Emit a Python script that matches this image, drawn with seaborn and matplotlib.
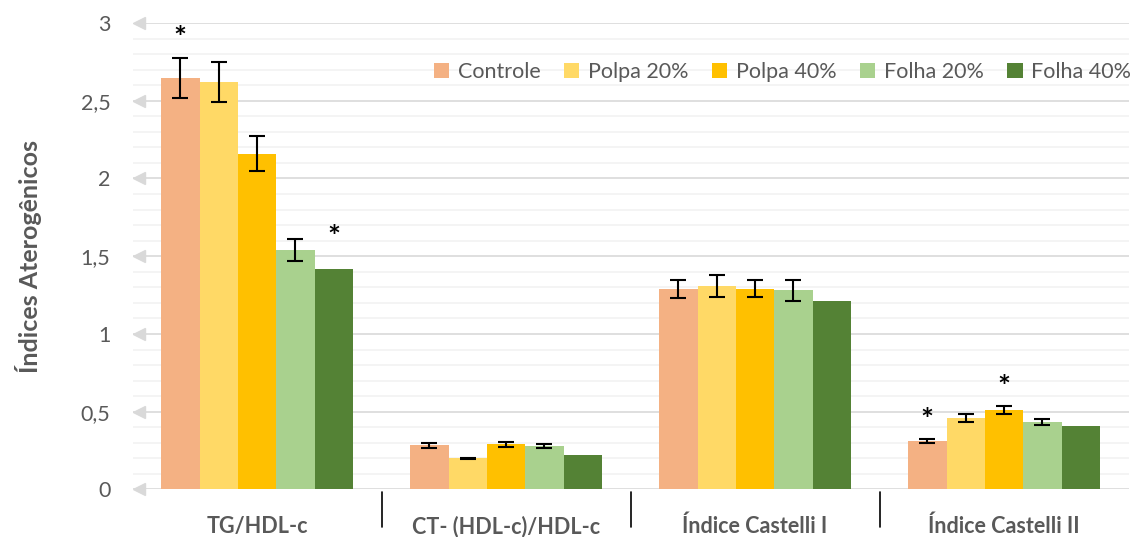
import numpy as np
import pandas as pd
import matplotlib
matplotlib.use("Agg")
import matplotlib.pyplot as plt
import seaborn as sns

# chart data
categories = ["TG/HDL-c", "CT- (HDL-c)/HDL-c", "Índice Castelli I", "Índice Castelli II"]
groups = ["Controle", "Polpa 20%", "Polpa 40%", "Folha 20%", "Folha 40%"]
colors = ["#F4B183", "#FFD966", "#FFC000", "#A9D18E", "#548235"]

controle = [2.645, 0.285, 1.29, 0.31]
polpa20 = [2.62, 0.20, 1.31, 0.46]
polpa40 = [2.16, 0.29, 1.29, 0.51]
folha20 = [1.54, 0.28, 1.28, 0.435]
folha40 = [1.415, 0.22, 1.21, 0.41]

controle_err = [0.13, 0.017, 0.06, 0.012]
polpa20_err = [0.13, 0.005, 0.07, 0.025]
polpa40_err = [0.11, 0.017, 0.055, 0.025]
folha20_err = [0.07, 0.012, 0.065, 0.02]
folha40_err = [0, 0, 0, 0]

# (group, category) pairs marked with an asterisk
stars = [("Controle", "TG/HDL-c"), ("Folha 40%", "TG/HDL-c"),
         ("Controle", "Índice Castelli II"), ("Polpa 40%", "Índice Castelli II")]

y_ticks = [0, 0.5, 1, 1.5, 2, 2.5, 3]

values = [controle, polpa20, polpa40, folha20, folha40]
errors = [controle_err, polpa20_err, polpa40_err, folha20_err, folha40_err]

rows = []
for g, vals, errs in zip(groups, values, errors):
    for c, v, e in zip(categories, vals, errs):
        rows.append({"categoria": c, "grupo": g, "valor": v, "erro": e})
df = pd.DataFrame(rows)

sns.set_style("white")
plt.rcParams["font.family"] = ["Lato", "DejaVu Sans"]

fig = plt.figure(figsize=(11.43, 5.37), dpi=100)
ax = fig.add_axes([0.116, 0.0885, 0.8714, 0.8687])

sns.barplot(data=df, x="categoria", y="valor", hue="grupo", order=categories,
            hue_order=groups, palette=colors, errorbar=None, width=0.77,
            saturation=1, linewidth=0, ax=ax, zorder=3)

# error bars and asterisks placed on the seaborn bars
text_gray = "#595959"
for i, g in enumerate(groups):
    for j, c in enumerate(categories):
        bar = ax.patches[i * len(categories) + j]
        xc = bar.get_x() + bar.get_width() / 2
        v = values[i][j]
        e = errors[i][j]
        if e > 0:
            ax.errorbar(xc, v, yerr=e, color="black", lw=1.5, capsize=6,
                        capthick=1.5, zorder=4)
        if (g, c) in stars:
            top = v + e + (0.12 if e > 0 else 0.2)
            ax.text(xc, top, "*", ha="center", va="center", fontsize=22,
                    fontweight="bold", color="black", zorder=5)

ax.set_xlim(-0.5, len(categories) - 0.5)
ax.set_ylim(0, 3)

# grid: major every 0.5, minor every 0.1
ax.set_yticks(y_ticks)
ax.set_yticks(np.arange(0, 3.01, 0.1), minor=True)
ax.grid(axis="y", which="minor", color="#F2F2F2", lw=1.2, zorder=0)
ax.grid(axis="y", which="major", color="#D9D9D9", lw=1.2, zorder=1)
ax.set_axisbelow(True)
ax.set_yticklabels([f"{t:g}".replace(".", ",") for t in y_ticks],
                   color=text_gray, fontsize=15.5)
ax.tick_params(axis="y", which="both", length=0, pad=16)
ax.tick_params(axis="x", length=0, pad=19)
ax.set_xticks(range(len(categories)))
ax.set_xticklabels(categories, fontsize=15.5, fontweight="bold", color=text_gray)

# little arrow heads at the left end of the major grid lines
ax.plot([-0.476] * len(y_ticks), y_ticks, lw=0, marker="<", ms=9,
        color="#D9D9D9", clip_on=False, zorder=2)

# category separators below the axis
for b in np.arange(0.5, len(categories) - 0.5, 1):
    ax.plot([b, b], [-0.005, -0.08], color="black", lw=1.2,
            transform=ax.get_xaxis_transform(), clip_on=False)

for s in ax.spines.values():
    s.set_visible(False)

ax.set_xlabel("")
ax.set_ylabel("Índices Aterogênicos", fontsize=18, fontweight="bold",
              color=text_gray, labelpad=28)

leg = ax.legend(loc="center right", bbox_to_anchor=(1.022, 0.895), ncol=5,
                frameon=False, fontsize=15.5, handlelength=0.7, handleheight=0.7,
                handletextpad=0.4, columnspacing=1.1, labelcolor=text_gray)

fig.savefig("out.png", dpi=100)
plt.close(fig)
